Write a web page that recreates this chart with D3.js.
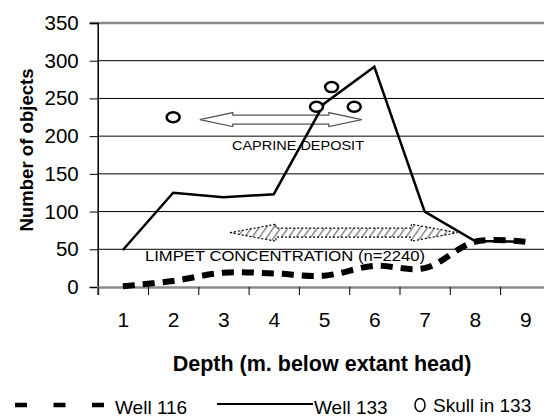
<!DOCTYPE html>
<html>
<head>
<meta charset="utf-8">
<script src="https://cdn.jsdelivr.net/npm/d3@7"></script>
<style>
  body { margin: 0; background: #fff; }
  text { font-family: "Liberation Sans", Arial, sans-serif; }
</style>
</head>
<body>
<div id="chart"></div>
<script>
// depth categories and counts
const depths = [1, 2, 3, 4, 5, 6, 7, 8, 9];
const well116 = [1, 8, 19, 18, 15, 28, 25, 60, 60];
const well133 = [49, 125, 119, 123, 243, 292, 100, 61, 60];
const skullDepth = [2, 4.85, 5.15, 5.6];
const skullCount = [225, 239, 265, 239];
const yTicks = [0, 50, 100, 150, 200, 250, 300, 350];

// annotation arrows (depth from / to, count) and their labels
const arrowLabels = ["CAPRINE DEPOSIT", "LIMPET CONCENTRATION (n=2240)"];
const arrowFrom = [2.53, 3.13];
const arrowTo = [5.75, 7.65];
const arrowCount = [222, 72];
const labelDepth = [3.17, 1.44];
const labelCount = [181, 34];

const svgWidth = 544, svgHeight = 418;
const svg = d3.select("#chart").append("svg")
  .attr("width", svgWidth)
  .attr("height", svgHeight);

const x = d3.scaleLinear().domain([0.5, 9.5]).range([97.7, 550.4]);
const y = d3.scaleLinear().domain([0, 350]).range([287, 23]);

// hatch for the limpet arrow
const defs = svg.append("defs");
const pat = defs.append("pattern")
  .attr("id", "hatch")
  .attr("patternUnits", "userSpaceOnUse")
  .attr("width", 6).attr("height", 6)
  .attr("patternTransform", "rotate(35)");
pat.append("rect").attr("width", 6).attr("height", 6).attr("fill", "#fff");
pat.append("line")
  .attr("x1", 0).attr("y1", 0).attr("x2", 0).attr("y2", 6)
  .attr("stroke", "#777").attr("stroke-width", 2.6);

// gridlines
svg.append("g").selectAll("line")
  .data(yTicks.filter(d => d > 0 && d < 350))
  .enter().append("line")
  .attr("x1", x(0.5)).attr("x2", x(9.5))
  .attr("y1", d => y(d)).attr("y2", d => y(d))
  .attr("stroke", "#000").attr("stroke-width", 1);

// top border of plot area
svg.append("line")
  .attr("x1", x(0.5) - 8).attr("x2", x(9.5))
  .attr("y1", y(350)).attr("y2", y(350))
  .attr("stroke", "#8a8a8a").attr("stroke-width", 2.5);

// y axis
const yAxis = svg.append("g")
  .attr("transform", `translate(${x(0.5)},0)`)
  .call(d3.axisLeft(y).tickValues(yTicks).tickSize(8).tickPadding(11));
yAxis.select(".domain").attr("stroke", "#000").attr("stroke-width", 1.5);
yAxis.selectAll(".tick line").attr("stroke", "#000");
yAxis.selectAll("text")
  .attr("font-size", "20.5px")
  .attr("font-family", "Liberation Sans, Arial, sans-serif")
  .attr("fill", "#000");

// x axis: tick marks at band edges, labels at band centres
const xMarks = svg.append("g")
  .attr("transform", `translate(0,${y(0)})`)
  .call(d3.axisBottom(x).tickValues(d3.range(0.5, 10, 1)).tickSize(8).tickFormat(""));
xMarks.select(".domain").attr("stroke", "#8a8a8a").attr("stroke-width", 2.5);
xMarks.selectAll(".tick line").attr("stroke", "#000");

const xLabels = svg.append("g")
  .attr("transform", `translate(0,${y(0)})`)
  .call(d3.axisBottom(x).tickValues(depths).tickSize(0).tickPadding(25).tickFormat(d3.format("d")));
xLabels.select(".domain").remove();
xLabels.selectAll("text")
  .attr("font-size", "21px")
  .attr("font-family", "Liberation Sans, Arial, sans-serif")
  .attr("fill", "#000");

// axis titles
svg.append("text")
  .attr("x", 322).attr("y", 371)
  .attr("text-anchor", "middle")
  .attr("font-size", "21.5px")
  .attr("font-weight", "bold")
  .text("Depth (m. below extant head)");

svg.append("text")
  .attr("transform", "translate(33,150) rotate(-90)")
  .attr("text-anchor", "middle")
  .attr("font-size", "18.6px")
  .attr("font-weight", "bold")
  .text("Number of objects");

// arrows
function arrowPath(x1, x2, yc, hl, hh, sh) {
  return `M${x1},${yc} L${x1 + hl},${yc - hh} L${x1 + hl},${yc - sh} L${x2 - hl},${yc - sh}` +
    ` L${x2 - hl},${yc - hh} L${x2},${yc} L${x2 - hl},${yc + hh} L${x2 - hl},${yc + sh}` +
    ` L${x1 + hl},${yc + sh} L${x1 + hl},${yc + hh} Z`;
}

svg.append("path")
  .attr("d", arrowPath(x(arrowFrom[0]), x(arrowTo[0]), y(arrowCount[0]), 33, 7, 4.5))
  .attr("fill", "#fff")
  .attr("stroke", "#555")
  .attr("stroke-width", 1.2);

svg.append("path")
  .attr("d", arrowPath(x(arrowFrom[1]), x(arrowTo[1]), y(arrowCount[1]), 46, 8.5, 4.5))
  .attr("fill", "url(#hatch)")
  .attr("stroke", "#000")
  .attr("stroke-width", 1.2)
  .attr("stroke-dasharray", "2,2");

svg.append("g").selectAll("text")
  .data(arrowLabels)
  .enter().append("text")
  .attr("x", (d, i) => x(labelDepth[i]))
  .attr("y", (d, i) => y(labelCount[i]))
  .attr("font-size", (d, i) => i === 0 ? "13.5px" : "15px")
  .attr("textLength", (d, i) => i === 0 ? 132 : 280)
  .attr("lengthAdjust", "spacingAndGlyphs")
  .attr("fill", "#000")
  .text(d => d);

// Well 116 (smoothed, dashed)
const line116 = d3.line()
  .x((d, i) => x(depths[i]))
  .y(d => y(d))
  .curve(d3.curveCatmullRom.alpha(0.5));
svg.append("path")
  .datum(well116)
  .attr("d", line116)
  .attr("fill", "none")
  .attr("stroke", "#000")
  .attr("stroke-width", 6)
  .attr("stroke-dasharray", "12,8");

// Well 133 (solid)
const line133 = d3.line()
  .x((d, i) => x(depths[i]))
  .y(d => y(d));
svg.append("path")
  .datum(well133)
  .attr("d", line133)
  .attr("fill", "none")
  .attr("stroke", "#000")
  .attr("stroke-width", 2.5)
  .attr("stroke-linejoin", "miter");

// skulls
svg.append("g").selectAll("ellipse")
  .data(skullCount)
  .enter().append("ellipse")
  .attr("cx", (d, i) => x(skullDepth[i]))
  .attr("cy", d => y(d))
  .attr("rx", 6.5).attr("ry", 5)
  .attr("fill", "#fff")
  .attr("stroke", "#000")
  .attr("stroke-width", 2.5);

// legend
const legend = svg.append("g");
legend.append("line")
  .attr("x1", 15).attr("x2", 104)
  .attr("y1", 405).attr("y2", 405)
  .attr("stroke", "#000").attr("stroke-width", 4.5)
  .attr("stroke-dasharray", "12,26.5");
legend.append("text")
  .attr("x", 115).attr("y", 413.5)
  .attr("font-size", "19px")
  .text("Well 116");
legend.append("line")
  .attr("x1", 217).attr("x2", 313)
  .attr("y1", 404).attr("y2", 404)
  .attr("stroke", "#000").attr("stroke-width", 2);
legend.append("text")
  .attr("x", 314).attr("y", 413.5)
  .attr("font-size", "19px")
  .text("Well 133");
legend.append("ellipse")
  .attr("cx", 420).attr("cy", 405)
  .attr("rx", 5).attr("ry", 6.5)
  .attr("fill", "#fff")
  .attr("stroke", "#000")
  .attr("stroke-width", 1.5);
legend.append("text")
  .attr("x", 433).attr("y", 412)
  .attr("font-size", "19px")
  .text("Skull in 133");
</script>
</body>
</html>
